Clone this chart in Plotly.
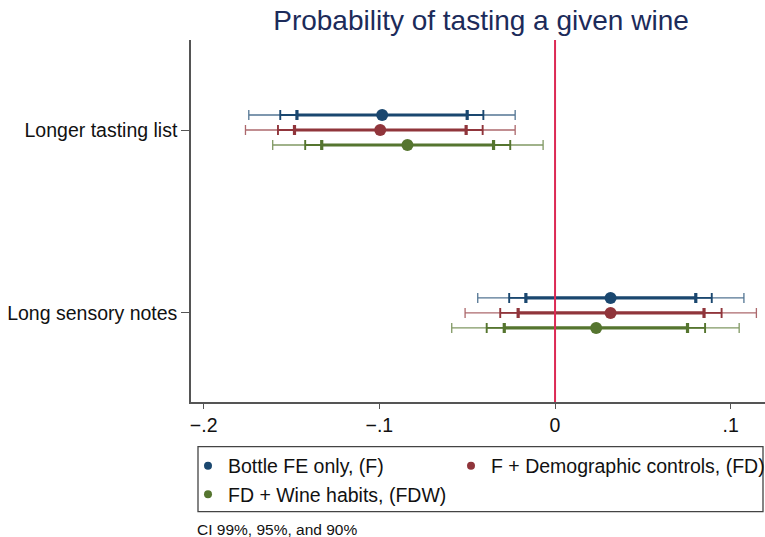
import plotly.graph_objects as go

# ---------------- data ----------------
CATEGORIES = ["Longer tasting list", "Long sensory notes"]
SERIES = ["Bottle FE only, (F)", "F + Demographic controls, (FD)", "FD + Wine habits, (FDW)"]

# point estimates per series (one per category)
F_POINT = [-0.0984, 0.0316]
FD_POINT = [-0.0995, 0.0316]
FDW_POINT = [-0.0840, 0.0234]

# confidence intervals: (low, high) per category
F_CI99 = [(-0.1743, -0.0227), (-0.0440, 0.1075)]
F_CI95 = [(-0.1564, -0.0408), (-0.0261, 0.0892)]
F_CI90 = [(-0.1469, -0.0500), (-0.0166, 0.0801)]

FD_CI99 = [(-0.1762, -0.0227), (-0.0512, 0.1146)]
FD_CI95 = [(-0.1577, -0.0412), (-0.0312, 0.0948)]
FD_CI90 = [(-0.1483, -0.0506), (-0.0210, 0.0848)]

FDW_CI99 = [(-0.1607, -0.0068), (-0.0588, 0.1048)]
FDW_CI95 = [(-0.1422, -0.0255), (-0.0389, 0.0854)]
FDW_CI90 = [(-0.1328, -0.0350), (-0.0289, 0.0754)]

X_TICK_VALS = [-0.2, -0.1, 0, 0.1]
X_TICK_TEXT = ["\u2212.2", "\u2212.1", "0", ".1"]
NOTE = "CI 99%, 95%, and 90%"
TITLE = "Probability of tasting a given wine"

# ---------------- styles ----------------
COLORS = ["#1a476f", "#90353b", "#55752f"]
THIN = ["rgba(26,71,111,0.75)", "rgba(144,53,59,0.75)", "rgba(85,117,47,0.75)"]
OFFSETS = [-0.082, 0.0, 0.082]
LEGEND_GROUPS = ["legend", "legend2", "legend"]
FONT = "Liberation Sans, Arial, Helvetica, sans-serif"

series_data = [
    (F_POINT, F_CI99, F_CI95, F_CI90),
    (FD_POINT, FD_CI99, FD_CI95, FD_CI90),
    (FDW_POINT, FDW_CI99, FDW_CI95, FDW_CI90),
]

fig = go.Figure()
ypos = list(range(1, len(CATEGORIES) + 1))

for i, (pts, c99, c95, c90) in enumerate(series_data):
    ys = [y + OFFSETS[i] for y in ypos]
    for ci, thick, col in ((c99, 1.3, THIN[i]), (c95, 1.9, COLORS[i]), (c90, 3.2, COLORS[i])):
        fig.add_trace(go.Scatter(
            x=pts, y=ys, mode="markers",
            marker=dict(size=1, color="rgba(0,0,0,0)"),
            error_x=dict(type="data", symmetric=False,
                         array=[hi - p for p, (lo, hi) in zip(pts, ci)],
                         arrayminus=[p - lo for p, (lo, hi) in zip(pts, ci)],
                         color=col, thickness=thick, width=5),
            showlegend=False, hoverinfo="skip"))
    fig.add_trace(go.Scatter(
        x=pts, y=ys, mode="markers",
        marker=dict(size=12, color=COLORS[i]),
        showlegend=False, name=SERIES[i]))

# legend-only entries with smaller dots
for i, name in enumerate(SERIES):
    fig.add_trace(go.Scatter(x=[None], y=[None], mode="markers",
                             marker=dict(size=8, color=COLORS[i]), name=name,
                             legend=LEGEND_GROUPS[i]))

# zero reference line
fig.add_shape(type="line", xref="x", yref="paper", x0=0, x1=0, y0=0, y1=1,
              line=dict(color="#dc2a55", width=2))

L, T, W, H = 191, 40, 574, 362.3
def px_x(p):
    return (p - L) / W
def px_y(p):
    return (T + H - p) / H

# legend frame
fig.add_shape(type="rect", xref="paper", yref="paper",
              x0=px_x(198), x1=px_x(763), y0=px_y(447), y1=px_y(512),
              line=dict(color="#444444", width=1.3), fillcolor="rgba(0,0,0,0)")

fig.add_annotation(text=NOTE, xref="paper", yref="paper", x=px_x(195), y=px_y(530),
                   xanchor="left", yanchor="middle", showarrow=False,
                   font=dict(family=FONT, size=15.5, color="#111111"))

legend_common = dict(orientation="v", yanchor="top", xanchor="left",
                     bgcolor="rgba(0,0,0,0)", borderwidth=0, tracegroupgap=0,
                     font=dict(family=FONT, size=19.5, color="#111111"),
                     itemclick=False, itemdoubleclick=False)

fig.update_layout(
    width=765, height=537,
    margin=dict(l=L, r=0, t=T, b=537 - T - H, autoexpand=False),
    paper_bgcolor="white", plot_bgcolor="white",
    title=dict(text=TITLE, x=481 / 765, xanchor="center", y=1 - 20 / 537, yanchor="middle",
               font=dict(family=FONT, size=28, color="#1c2b5a")),
    font=dict(family=FONT, size=19.5, color="#111111"),
    showlegend=True,
    legend=dict(x=px_x(188), y=px_y(447), **legend_common),
    legend2=dict(x=px_x(451), y=px_y(447), **legend_common),
    xaxis=dict(range=[-0.2072, 0.1195], tickvals=X_TICK_VALS, ticktext=X_TICK_TEXT,
               showgrid=False, zeroline=False, showline=True, linecolor="#555555", linewidth=1.5,
               ticks="outside", ticklen=5, tickcolor="#555555", tickwidth=1.3,
               tickfont=dict(family=FONT, size=19.5, color="#111111")),
    yaxis=dict(range=[2.487, 0.508], tickvals=ypos, ticktext=CATEGORIES,
               showgrid=False, zeroline=False, showline=True, linecolor="#555555", linewidth=1.5,
               ticks="outside", ticklen=8, tickcolor="#555555", tickwidth=1.3,
               tickfont=dict(family=FONT, size=19.5, color="#111111")),
)

fig.write_html("out.html", config={"displayModeBar": False},
               post_script="document.body.style.margin='0px';")
